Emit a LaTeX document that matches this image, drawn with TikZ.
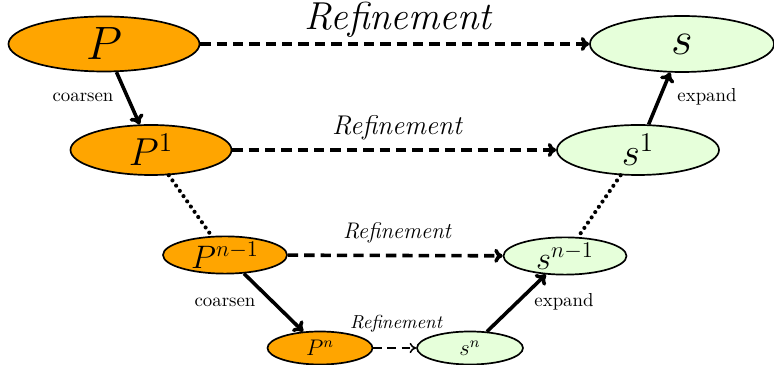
\documentclass[tikz,border=0pt]{standalone}
\usetikzlibrary{shapes.geometric,arrows.meta}
\definecolor{porange}{RGB}{255,165,0}
\definecolor{sgreen}{RGB}{230,255,218}
\begin{document}
\begin{tikzpicture}[x=0.532pt,y=-0.532pt,
  pnode/.style={ellipse,draw,line width=0.9pt,fill=porange,inner sep=0pt},
  snode/.style={ellipse,draw,line width=0.9pt,fill=sgreen,inner sep=0pt},
  refarrow/.style={-{To[length=4.5pt,width=7.5pt]},line width=1.9pt,dash pattern=on 5.5pt off 3.2pt},
  refthin/.style={-{To[length=3.5pt,width=5.5pt]},line width=0.8pt,dash pattern=on 4.5pt off 3pt},
  stepline/.style={-{To[length=5pt,width=8pt]},line width=1.9pt},
  dotline/.style={line width=2.2pt,line cap=round,dash pattern=on 0pt off 3.4pt},
  lbl/.style={inner sep=0pt}]
\useasboundingbox (0,0) rectangle (774,365);
% nodes
\node[pnode,minimum width=191*0.532pt,minimum height=55*0.532pt] (P) at (104,44) {\Huge$P$};
\node[snode,minimum width=184*0.532pt,minimum height=56*0.532pt] (s) at (682,44) {\Huge$s$};
\node[pnode,minimum width=161*0.532pt,minimum height=50*0.532pt] (P1) at (151,150) {\huge$P^1$};
\node[snode,minimum width=162*0.532pt,minimum height=50*0.532pt] (s1) at (638,150) {\huge$s^1$};
\node[pnode,minimum width=124*0.532pt,minimum height=37*0.532pt] (Pn1) at (225,255) {\LARGE$P^{n-1}$};
\node[snode,minimum width=123*0.532pt,minimum height=36*0.532pt] (sn1) at (565,256) {\LARGE$s^{n-1}$};
\node[pnode,minimum width=105*0.532pt,minimum height=33*0.532pt] (Pn) at (320,348) {\large$P^n$};
\node[snode,minimum width=106*0.532pt,minimum height=33*0.532pt] (sn) at (470,348) {\large$s^n$};
% refinement arrows
\draw[refarrow] (P) -- (s);
\draw[refarrow] (P1) -- (s1);
\draw[refarrow] (Pn1) -- (sn1);
\draw[refthin] (Pn) -- (sn);
% coarsen / expand
\draw[stepline] (P) -- (P1);
\draw[stepline] (s1) -- (s);
\draw[stepline] (Pn1) -- (Pn);
\draw[stepline] (sn) -- (sn1);
% dotted
\draw[dotline] (P1) -- (Pn1);
\draw[dotline] (s1) -- (sn1);
% labels
\node[lbl] (r0) at (398,20) {\huge\itshape Refinement};
\node[lbl] (r1) at (397,128) {\Large\itshape Refinement};
\node[lbl] (r2) at (397,233) {\large\itshape Refinement};
\node[lbl] (r3) at (396,324) {\itshape Refinement};
\node[lbl] (c0) at (83,97) {coarsen};
\node[lbl] (e0) at (707,97) {expand};
\node[lbl] (c1) at (225,302) {coarsen};
\node[lbl] (e1) at (564,302) {expand};
\end{tikzpicture}
\end{document}
